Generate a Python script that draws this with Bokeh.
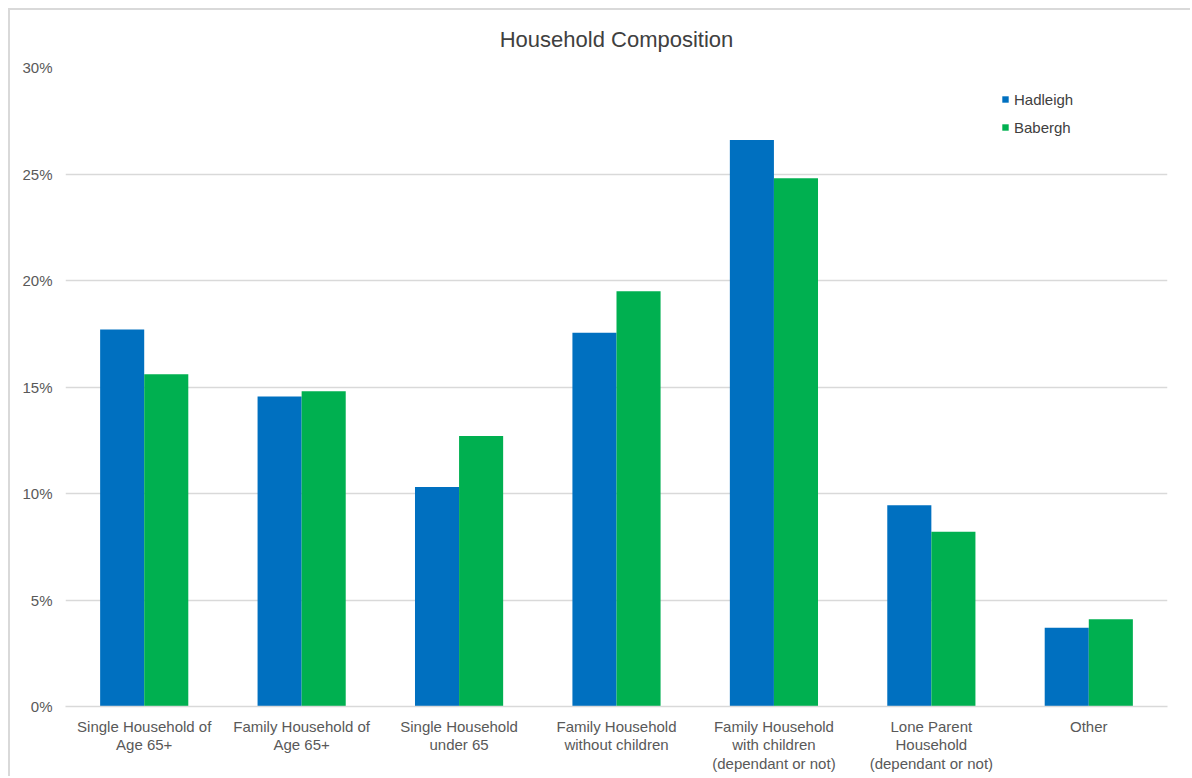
from bokeh.plotting import figure
from bokeh.models import (ColumnDataSource, FixedTicker, Legend, LegendItem,
                          Range1d)
from bokeh.transform import dodge
from bokeh.embed import file_html
from bokeh.resources import INLINE

# Household composition shares (%) by area
categories = [
    "Single Household of\nAge 65+",
    "Family Household of\nAge 65+",
    "Single Household\nunder 65",
    "Family Household\nwithout children",
    "Family Household\nwith children\n(dependant or not)",
    "Lone Parent\nHousehold\n(dependant or not)",
    "Other",
]
hadleigh = [17.7, 14.55, 10.3, 17.55, 26.6, 9.45, 3.7]
babergh = [15.6, 14.8, 12.7, 19.5, 24.8, 8.2, 4.1]
y_ticks = [0, 5, 10, 15, 20, 25, 30]

FONT = "Liberation Sans"
BLUE = "#0070C0"
GREEN = "#00B050"
GRID = "#d9d9d9"

source = ColumnDataSource(dict(
    x=list(range(len(categories))),
    hadleigh=hadleigh,
    babergh=babergh,
))

p = figure(
    width=1182, height=768,
    x_range=Range1d(-0.5, len(categories) - 0.5),
    y_range=Range1d(0, 30),
    output_backend="svg", toolbar_location=None,
    min_border_left=55, min_border_right=25,
    min_border_top=57, min_border_bottom=72,
    margin=(8, 0, 0, 8),
)
p.styles = {"border-left": f"2px solid {GRID}", "border-top": f"2px solid {GRID}"}
p.outline_line_color = None
p.background_fill_color = "white"
p.border_fill_color = "white"

bar_w = 0.28
r_h = p.vbar(x=dodge("x", -bar_w / 2, range=p.x_range), top="hadleigh", width=bar_w,
             source=source, fill_color=BLUE, line_color=None)
r_b = p.vbar(x=dodge("x", bar_w / 2, range=p.x_range), top="babergh", width=bar_w,
             source=source, fill_color=GREEN, line_color=None)

# title
p.title.text = "Household Composition"
p.title.align = "center"
p.title.vertical_align = "top"
p.title.text_font = FONT
p.title.text_font_size = "22px"
p.title.text_font_style = "normal"
p.title.text_color = "#404040"
p.title.standoff = 28

# x axis
p.xaxis.ticker = FixedTicker(ticks=list(range(len(categories))))
p.xaxis.major_label_overrides = {i: c for i, c in enumerate(categories)}
p.xaxis.major_tick_line_color = None
p.xaxis.minor_tick_line_color = None
p.xaxis.axis_line_color = GRID
p.xaxis.axis_line_width = 1.5
p.xaxis.major_label_standoff = 5
p.xaxis.major_label_text_font = FONT
p.xaxis.major_label_text_font_size = "15px"
p.xaxis.major_label_text_color = "#595959"
p.xaxis.major_label_text_line_height = 1.1

# y axis
p.yaxis.ticker = FixedTicker(ticks=y_ticks)
p.yaxis.major_label_overrides = {t: f"{t}%" for t in y_ticks}
p.yaxis.axis_line_color = None
p.yaxis.major_tick_line_color = None
p.yaxis.minor_tick_line_color = None
p.yaxis.major_label_standoff = 7
p.yaxis.major_label_text_font = FONT
p.yaxis.major_label_text_font_size = "15px"
p.yaxis.major_label_text_color = "#595959"

p.xgrid.grid_line_color = None
p.ygrid.ticker = FixedTicker(ticks=y_ticks)
p.ygrid.grid_line_color = GRID
p.ygrid.grid_line_width = 1.5

legend = Legend(
    items=[LegendItem(label="Hadleigh", renderers=[r_h]),
           LegendItem(label="Babergh", renderers=[r_b])],
    location=(936, 569),
    padding=0, margin=0, spacing=8,
    glyph_width=8, glyph_height=8, label_height=20, label_standoff=5,
    border_line_color=None, background_fill_alpha=0,
    label_text_font=FONT, label_text_font_size="15px", label_text_color="#404040",
)
p.add_layout(legend)

open("out.html", "w").write(file_html(p, INLINE))
